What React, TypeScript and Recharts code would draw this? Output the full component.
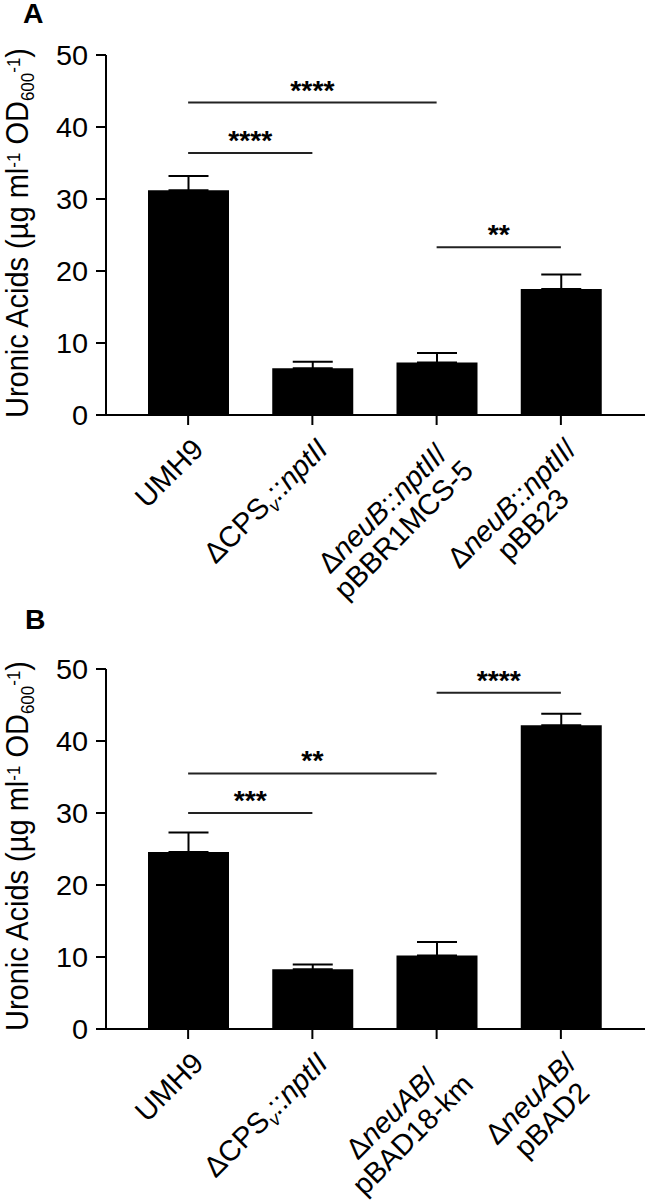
import React from 'react';
import { BarChart, Bar, XAxis, YAxis, ErrorBar, ReferenceLine } from 'recharts';

// ---------- data ----------
const categoriesA = ['UMH9', 'ΔCPSv::nptII', 'ΔneuB::nptII/pBBR1MCS-5', 'ΔneuB::nptII/pBB23'];
const valuesA = [31.2, 6.5, 7.3, 17.5];
const errorsA = [2.0, 0.9, 1.3, 2.0];

const categoriesB = ['UMH9', 'ΔCPSv::nptII', 'ΔneuAB/pBAD18-km', 'ΔneuAB/pBAD2'];
const valuesB = [24.6, 8.3, 10.2, 42.2];
const errorsB = [2.7, 0.65, 1.9, 1.6];

const yTicks = [0, 10, 20, 30, 40, 50];

type Seg = { t: string; it?: boolean; sub?: boolean };
const tickLabelsA: Seg[][][] = [
  [[{ t: 'UMH9' }]],
  [[{ t: 'ΔCPS' }, { t: 'v', sub: true, it: true }, { t: '::' }, { t: 'nptII', it: true }]],
  [[{ t: 'Δ' }, { t: 'neuB', it: true }, { t: '::' }, { t: 'nptII', it: true }, { t: '/' }], [{ t: 'pBBR1MCS-5' }]],
  [[{ t: 'Δ' }, { t: 'neuB', it: true }, { t: '::' }, { t: 'nptII', it: true }, { t: '/' }], [{ t: 'pBB23' }]],
];
const tickLabelsB: Seg[][][] = [
  [[{ t: 'UMH9' }]],
  [[{ t: 'ΔCPS' }, { t: 'v', sub: true, it: true }, { t: '::' }, { t: 'nptII', it: true }]],
  [[{ t: 'Δ' }, { t: 'neuAB', it: true }, { t: '/' }], [{ t: 'pBAD18-km' }]],
  [[{ t: 'Δ' }, { t: 'neuAB', it: true }, { t: '/' }], [{ t: 'pBAD2' }]],
];

const sigA = [
  { from: 0, to: 1, y: 36.4, label: '****' },
  { from: 0, to: 2, y: 43.4, label: '****' },
  { from: 2, to: 3, y: 23.3, label: '**' },
];
const sigB = [
  { from: 0, to: 1, y: 30.0, label: '***' },
  { from: 0, to: 2, y: 35.5, label: '**' },
  { from: 2, to: 3, y: 46.7, label: '****' },
];

// ---------- style ----------
const FONT = '"Liberation Sans", Arial, Helvetica, sans-serif';
const SX = 1.05;
const W = 647;
const TOP = 55;
const PLOT_H = 360;
const Y_W = 106;
const TICK_FS = 27.5;
const XL_FS = 29;
const STAR_FS = 27;

const CW: Record<string, number> = {
  U: 722, M: 833, H: 722, C: 722, P: 667, S: 667, A: 667, B: 667, D: 722, R: 722, I: 278,
  v: 500, n: 556, p: 556, t: 278, e: 556, u: 556, k: 500, m: 833,
  ':': 278, '/': 278, '-': 333, 'Δ': 668,
};
const charW = (c: string) => (CW[c] ?? 556) / 1000;
const lineWidth = (line: Seg[], fs: number) =>
  line.reduce((s, seg) => s + seg.t.split('').reduce((a, c) => a + charW(c), 0) * fs * (seg.sub ? 0.65 : 1), 0);

const XTick = (props: any) => {
  const { x, y, payload, labels, cats } = props;
  const idx = payload && typeof payload.index === 'number' ? payload.index : cats.indexOf(payload.value);
  const lines: Seg[][] = labels[idx] || [[{ t: String(payload.value) }]];
  const widths = lines.map((l) => lineWidth(l, XL_FS));
  const maxW = Math.max(...widths);
  const cx = -5 - maxW / 2;
  return (
    <g transform={`translate(${x},${y}) rotate(-45)`}>
      {lines.map((ln, i) => (
        <text key={i} x={cx} y={29 + i * 30} textAnchor="middle" fontSize={XL_FS} fontFamily={FONT} fill="#000">
          {ln.map((seg, j) => {
            const prevSub = j > 0 && ln[j - 1].sub;
            const dy = seg.sub ? 6 : prevSub ? -6 : 0;
            return (
              <tspan key={j} dy={dy} fontStyle={seg.it ? 'italic' : 'normal'} fontSize={seg.sub ? XL_FS * 0.65 : XL_FS}>
                {seg.t}
              </tspan>
            );
          })}
        </text>
      ))}
    </g>
  );
};

const YTick = (props: any) => {
  const { x, y, payload } = props;
  return (
    <text transform={`translate(${x},${y}) scale(${SX},1)`} textAnchor="end" dy="0.36em" fontSize={TICK_FS} fontFamily={FONT} fill="#000">
      {payload.value}
    </text>
  );
};

const SigShape = (props: any) => {
  const { x1, y1, x2, y2, text } = props;
  const cx = (x1 + x2) / 2;
  return (
    <g>
      <line x1={x1} y1={y1} x2={x2} y2={y2} stroke="#222" strokeWidth={2} />
      <text transform={`translate(${cx},${y1 - 3}) scale(${SX},1)`} textAnchor="middle" fontSize={STAR_FS} fontWeight="bold" fontFamily={FONT} fill="#000">
        {text}
      </text>
    </g>
  );
};

type PanelProps = {
  cats: string[];
  values: number[];
  errors: number[];
  sig: { from: number; to: number; y: number; label: string }[];
  labels: Seg[][][];
  height: number;
};

const Panel = ({ cats, values, errors, sig, labels, height }: PanelProps) => {
  const data = cats.map((name, i) => ({ name, value: values[i], err: [0, errors[i]] }));
  return (
    <BarChart width={W} height={height} data={data} margin={{ top: TOP, right: 2, left: 0, bottom: 0 }} barCategoryGap={0}>
      <XAxis
        dataKey="name"
        interval={0}
        height={height - TOP - PLOT_H}
        padding={{ left: 20, right: 22 }}
        axisLine={{ stroke: '#000', strokeWidth: 2 }}
        tickLine={{ stroke: '#000', strokeWidth: 2 }}
        tickSize={10}
        tickMargin={2}
        tick={(p: any) => <XTick {...p} labels={labels} cats={cats} />}
      />
      <YAxis
        domain={[0, 50]}
        ticks={yTicks}
        interval={0}
        width={Y_W}
        axisLine={{ stroke: '#000', strokeWidth: 2 }}
        tickLine={{ stroke: '#000', strokeWidth: 2 }}
        tickSize={10}
        tickMargin={8}
        tick={(p: any) => <YTick {...p} />}
      />
      <Bar dataKey="value" fill="#000" barSize={81} isAnimationActive={false}>
        <ErrorBar dataKey="err" width={20} stroke="#000" strokeWidth={2} direction="y" isAnimationActive={false} />
      </Bar>
      {sig.map((s, i) => (
        <ReferenceLine
          key={i}
          segment={[{ x: cats[s.from], y: s.y }, { x: cats[s.to], y: s.y }]}
          stroke="#222"
          strokeWidth={2}
          ifOverflow="visible"
          shape={(p: any) => <SigShape {...p} text={s.label} />}
        />
      ))}
    </BarChart>
  );
};

const YTitle = ({ cy }: { cy: number }) => (
  <text transform={`translate(28,${cy}) scale(${SX},1) rotate(-90)`} textAnchor="middle" fontSize={29} fontFamily={FONT} fill="#000">
    <tspan>Uronic Acids (µg ml</tspan>
    <tspan dy={-8} fontSize={17}>-1</tspan>
    <tspan dy={8}> OD</tspan>
    <tspan dy={6} fontSize={17}>600</tspan>
    <tspan dy={-14} fontSize={17}>-1</tspan>
    <tspan dy={8}>)</tspan>
  </text>
);

export default function App() {
  const topB = 614;
  return (
    <div style={{ position: 'absolute', left: 0, top: 0, width: W, height: 1200, background: '#fff', overflow: 'hidden' }}>
      <div style={{ position: 'absolute', left: 0, top: 0 }}>
        <Panel cats={categoriesA} values={valuesA} errors={errorsA} sig={sigA} labels={tickLabelsA} height={topB} />
      </div>
      <div style={{ position: 'absolute', left: 0, top: topB }}>
        <Panel cats={categoriesB} values={valuesB} errors={errorsB} sig={sigB} labels={tickLabelsB} height={1200 - topB} />
      </div>
      <svg width={W} height={1200} style={{ position: 'absolute', left: 0, top: 0, pointerEvents: 'none' }}>
        <text transform={`translate(23,23) scale(${SX},1)`} fontSize={27} fontWeight="bold" fontFamily={FONT}>A</text>
        <text transform={`translate(25,629) scale(${SX},1)`} fontSize={27} fontWeight="bold" fontFamily={FONT}>B</text>
        <YTitle cy={TOP + PLOT_H / 2 - 2} />
        <YTitle cy={topB + TOP + PLOT_H / 2 - 3} />
      </svg>
    </div>
  );
}
